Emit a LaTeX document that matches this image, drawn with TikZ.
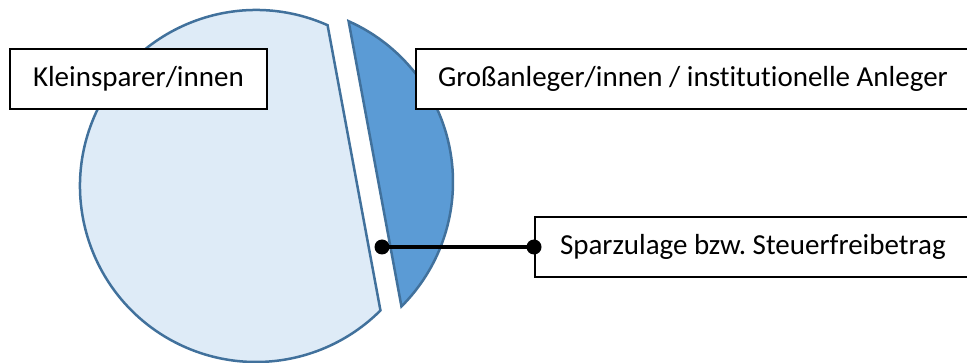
\documentclass[tikz,border=0pt]{standalone}
\usepackage{fontspec}
\setmainfont{Carlito}[Ligatures=NoCommon]
\frenchspacing
\definecolor{lightpie}{HTML}{DEEBF7}
\definecolor{darkpie}{HTML}{5B9BD5}
\definecolor{pieedge}{HTML}{41719C}
\begin{document}
\begin{tikzpicture}[x=1pt,y=-1pt,
  piece/.style={draw=pieedge,line width=2.5pt,line join=miter},
  labelbox/.style={draw=black,line width=2pt,fill=white,minimum height=60pt,inner xsep=23pt,anchor=west,font=\fontsize{29}{34}\selectfont},
  link/.style={line width=4pt,black},
  dot/.style={circle,fill=black,inner sep=0pt,minimum size=15pt}]
\useasboundingbox (0,0) rectangle (967,363);
\clip (0,0) rectangle (967,363);
% left (large) piece
\draw[piece,fill=lightpie] (256,186) ++(-66:176) arc[start angle=-66,end angle=-315,radius=176] -- cycle;
% right (small) piece, exploded
\draw[piece,fill=darkpie] (277,182) ++(-66:176) arc[start angle=-66,end angle=45,radius=176] -- cycle;
\node[labelbox] (klein) at (9,79) {Kleinsparer/innen};
\node[labelbox,inner xsep=22pt] (gross) at (415,79) {Großanleger/innen / institutionelle Anleger};
\node[labelbox,inner xsep=25pt] (spar) at (534,247) {Sparzulage bzw. Steuerfreibetrag};
\coordinate (gap) at (382,247);
\draw[link] (gap) -- (spar.west);
\node[dot] (d1) at (gap) {};
\node[dot] (d2) at (spar.west) {};
\end{tikzpicture}
\end{document}
